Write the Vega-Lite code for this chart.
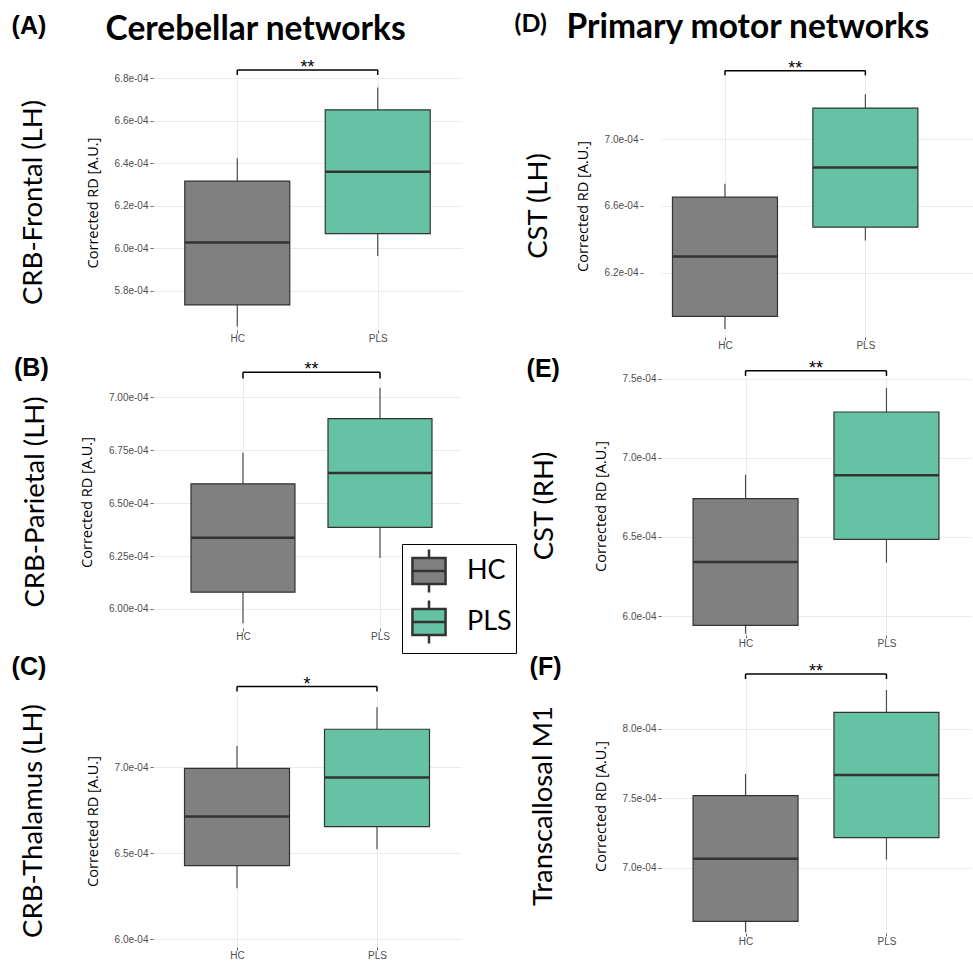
{
  "$schema": "https://vega.github.io/schema/vega-lite/v6.json",
  "background": "white",
  "padding": {"left": 11, "top": 11, "right": 0, "bottom": 0},
  "datasets": {
    "boxes": [
      {"panel": "A", "group": "HC", "lo": 0.0005631, "q1": 0.0005733, "med": 0.0006027, "q3": 0.0006316, "hi": 0.0006423},
      {"panel": "A", "group": "PLS", "lo": 0.0005963, "q1": 0.0006069, "med": 0.0006360, "q3": 0.0006651, "hi": 0.0006756},
      {"panel": "B", "group": "HC", "lo": 0.0005932, "q1": 0.0006079, "med": 0.0006336, "q3": 0.0006591, "hi": 0.0006737},
      {"panel": "B", "group": "PLS", "lo": 0.0006240, "q1": 0.0006385, "med": 0.0006642, "q3": 0.0006899, "hi": 0.0007044},
      {"panel": "C", "group": "HC", "lo": 0.0006297, "q1": 0.0006428, "med": 0.0006713, "q3": 0.0006994, "hi": 0.0007124},
      {"panel": "C", "group": "PLS", "lo": 0.0006523, "q1": 0.0006655, "med": 0.0006940, "q3": 0.0007221, "hi": 0.0007349},
      {"panel": "D", "group": "HC", "lo": 0.0005862, "q1": 0.0005938, "med": 0.0006296, "q3": 0.0006652, "hi": 0.0006732},
      {"panel": "D", "group": "PLS", "lo": 0.0006392, "q1": 0.0006472, "med": 0.0006830, "q3": 0.0007186, "hi": 0.0007268},
      {"panel": "E", "group": "HC", "lo": 0.0005888, "q1": 0.0005941, "med": 0.0006341, "q3": 0.0006741, "hi": 0.0006893},
      {"panel": "E", "group": "PLS", "lo": 0.0006337, "q1": 0.0006484, "med": 0.0006889, "q3": 0.0007289, "hi": 0.0007441},
      {"panel": "F", "group": "HC", "lo": 0.0006538, "q1": 0.0006617, "med": 0.0007067, "q3": 0.0007519, "hi": 0.0007675},
      {"panel": "F", "group": "PLS", "lo": 0.0007060, "q1": 0.0007218, "med": 0.0007668, "q3": 0.0008118, "hi": 0.0008278}
    ],
    "sig": [
      {"panel": "A", "yb": 0.0006839, "ye": 0.0006815, "label": "**"},
      {"panel": "B", "yb": 0.0007118, "ye": 0.0007088, "label": "**"},
      {"panel": "C", "yb": 0.0007469, "ye": 0.0007440, "label": "*"},
      {"panel": "D", "yb": 0.0007410, "ye": 0.0007382, "label": "**"},
      {"panel": "E", "yb": 0.0007549, "ye": 0.0007517, "label": "**"},
      {"panel": "F", "yb": 0.0008393, "ye": 0.0008357, "label": "**"}
    ]
  },
  "concat": [
    {
      "title": {"text": "Cerebellar networks", "anchor": "start", "frame": "bounds", "font": "Lato", "fontSize": 33.5, "fontWeight": "bold", "color": "#000000", "dx": 94, "dy": 34, "offset": 0},
      "concat": [
        {
          "title": {"text": "(A)", "anchor": "start", "frame": "bounds", "font": "Liberation Sans", "fontSize": 25, "fontWeight": "bold", "color": "#000000", "offset": 20, "dx": -8},
          "vconcat": [
            {
              "width": 309, "height": 255,
              "title": {"text": "CRB-Frontal (LH)", "orient": "left", "offset": 38, "font": "Lato", "fontSize": 27.5, "fontWeight": "normal", "color": "#000000"},
              "layer": [
                {"data": {"name": "boxes"}, "transform": [{"filter": "datum.panel === 'A'"}], "mark": {"type": "rule", "color": "#4D4D4D", "strokeWidth": 1.2},
                 "encoding": {
                   "x": {"field": "group", "type": "nominal", "scale": {"type": "point", "domain": ["_l", "HC", "mid", "PLS", "_r"], "padding": 0.2}, "axis": {"values": ["HC", "PLS"], "title": null, "labelAngle": 0, "grid": true}},
                   "y": {"field": "lo", "type": "quantitative", "title": "Corrected RD [A.U.]", "scale": {"domain": [0.0005615, 0.0006815], "nice": false, "zero": false}, "axis": {"title": "Corrected RD [A.U.]", "titleFont": "Open Sans", "titleFontSize": 14.5, "values": [0.00058, 0.0006, 0.00062, 0.00064, 0.00066, 0.00068], "labelExpr": "replace(format(datum.value, '.1e'), 'e-', 'e-0')"}},
                   "y2": {"field": "hi"}}},
                {"data": {"name": "boxes"}, "transform": [{"filter": "datum.panel === 'A'"}], "mark": {"type": "bar", "width": 105, "stroke": "#333333", "strokeWidth": 1.2},
                 "encoding": {"x": {"field": "group", "type": "nominal"}, "y": {"field": "q1", "type": "quantitative", "title": "Corrected RD [A.U.]"}, "y2": {"field": "q3"},
                   "fill": {"field": "group", "type": "nominal", "scale": {"domain": ["HC", "PLS"], "range": ["#808080", "#66C2A5"]}, "legend": {"title": null}}}},
                {"data": {"name": "boxes"}, "transform": [{"filter": "datum.panel === 'A'"}], "mark": {"type": "tick", "size": 105, "thickness": 2.5, "color": "#333333", "opacity": 1},
                 "encoding": {"x": {"field": "group", "type": "nominal"}, "y": {"field": "med", "type": "quantitative", "title": "Corrected RD [A.U.]"}}},
                {"data": {"name": "sig"}, "transform": [{"filter": "datum.panel === 'A'"}], "mark": {"type": "rule", "color": "#000000", "strokeWidth": 1.5},
                 "encoding": {"x": {"datum": "HC", "type": "nominal"}, "x2": {"datum": "PLS"}, "y": {"field": "yb", "type": "quantitative", "title": "Corrected RD [A.U.]"}}},
                {"data": {"name": "sig"}, "transform": [{"filter": "datum.panel === 'A'"}], "mark": {"type": "rule", "color": "#000000", "strokeWidth": 1.5},
                 "encoding": {"x": {"datum": "HC", "type": "nominal"}, "y": {"field": "yb", "type": "quantitative", "title": "Corrected RD [A.U.]"}, "y2": {"field": "ye"}}},
                {"data": {"name": "sig"}, "transform": [{"filter": "datum.panel === 'A'"}], "mark": {"type": "rule", "color": "#000000", "strokeWidth": 1.5},
                 "encoding": {"x": {"datum": "PLS", "type": "nominal"}, "y": {"field": "yb", "type": "quantitative", "title": "Corrected RD [A.U.]"}, "y2": {"field": "ye"}}},
                {"data": {"name": "sig"}, "transform": [{"filter": "datum.panel === 'A'"}], "mark": {"type": "text", "font": "Liberation Sans", "fontSize": 18, "baseline": "alphabetic", "dy": 3, "color": "#000000"},
                 "encoding": {"x": {"datum": "mid", "type": "nominal"}, "y": {"field": "yb", "type": "quantitative", "title": "Corrected RD [A.U.]"}, "text": {"field": "label"}}}
              ]
            }
          ]
        },
        {
          "title": {"text": "(B)", "anchor": "start", "frame": "bounds", "font": "Liberation Sans", "fontSize": 25, "fontWeight": "bold", "color": "#000000", "offset": -20, "dx": -8},
          "vconcat": [
            {
              "width": 308, "height": 252,
              "title": {"text": "CRB-Parietal (LH)", "orient": "left", "offset": 30, "font": "Lato", "fontSize": 27.5, "fontWeight": "normal", "color": "#000000"},
              "layer": [
                {"data": {"name": "boxes"}, "transform": [{"filter": "datum.panel === 'B'"}], "mark": {"type": "rule", "color": "#4D4D4D", "strokeWidth": 1.2},
                 "encoding": {
                   "x": {"field": "group", "type": "nominal", "scale": {"type": "point", "domain": ["_l", "HC", "mid", "PLS", "_r"], "padding": 0.248, "align": 0.632}, "axis": {"values": ["HC", "PLS"], "title": null, "labelAngle": 0, "grid": true}},
                   "y": {"field": "lo", "type": "quantitative", "title": "Corrected RD [A.U.]", "scale": {"domain": [0.000591, 0.000710], "nice": false, "zero": false}, "axis": {"title": "Corrected RD [A.U.]", "titleFont": "Open Sans", "titleFontSize": 14.5, "values": [0.0006, 0.000625, 0.00065, 0.000675, 0.0007], "labelExpr": "replace(format(datum.value, '.2e'), 'e-', 'e-0')"}},
                   "y2": {"field": "hi"}}},
                {"data": {"name": "boxes"}, "transform": [{"filter": "datum.panel === 'B'"}], "mark": {"type": "bar", "width": 104, "stroke": "#333333", "strokeWidth": 1.2},
                 "encoding": {"x": {"field": "group", "type": "nominal"}, "y": {"field": "q1", "type": "quantitative", "title": "Corrected RD [A.U.]"}, "y2": {"field": "q3"},
                   "fill": {"field": "group", "type": "nominal", "scale": {"domain": ["HC", "PLS"], "range": ["#808080", "#66C2A5"]}, "legend": {"title": null}}}},
                {"data": {"name": "boxes"}, "transform": [{"filter": "datum.panel === 'B'"}], "mark": {"type": "tick", "size": 104, "thickness": 2.5, "color": "#333333", "opacity": 1},
                 "encoding": {"x": {"field": "group", "type": "nominal"}, "y": {"field": "med", "type": "quantitative", "title": "Corrected RD [A.U.]"}}},
                {"data": {"name": "sig"}, "transform": [{"filter": "datum.panel === 'B'"}], "mark": {"type": "rule", "color": "#000000", "strokeWidth": 1.5},
                 "encoding": {"x": {"datum": "HC", "type": "nominal"}, "x2": {"datum": "PLS"}, "y": {"field": "yb", "type": "quantitative", "title": "Corrected RD [A.U.]"}}},
                {"data": {"name": "sig"}, "transform": [{"filter": "datum.panel === 'B'"}], "mark": {"type": "rule", "color": "#000000", "strokeWidth": 1.5},
                 "encoding": {"x": {"datum": "HC", "type": "nominal"}, "y": {"field": "yb", "type": "quantitative", "title": "Corrected RD [A.U.]"}, "y2": {"field": "ye"}}},
                {"data": {"name": "sig"}, "transform": [{"filter": "datum.panel === 'B'"}], "mark": {"type": "rule", "color": "#000000", "strokeWidth": 1.5},
                 "encoding": {"x": {"datum": "PLS", "type": "nominal"}, "y": {"field": "yb", "type": "quantitative", "title": "Corrected RD [A.U.]"}, "y2": {"field": "ye"}}},
                {"data": {"name": "sig"}, "transform": [{"filter": "datum.panel === 'B'"}], "mark": {"type": "text", "font": "Liberation Sans", "fontSize": 18, "baseline": "alphabetic", "dy": 3, "color": "#000000"},
                 "encoding": {"x": {"datum": "mid", "type": "nominal"}, "y": {"field": "yb", "type": "quantitative", "title": "Corrected RD [A.U.]"}, "text": {"field": "label"}}}
              ]
            }
          ]
        },
        {
          "title": {"text": "(C)", "anchor": "start", "frame": "bounds", "font": "Liberation Sans", "fontSize": 25, "fontWeight": "bold", "color": "#000000", "offset": -4, "dx": -8},
          "vconcat": [
            {
              "width": 308, "height": 252,
              "title": {"text": "CRB-Thalamus (LH)", "orient": "left", "offset": 38, "font": "Lato", "fontSize": 27.5, "fontWeight": "normal", "color": "#000000"},
              "layer": [
                {"data": {"name": "boxes"}, "transform": [{"filter": "datum.panel === 'C'"}], "mark": {"type": "rule", "color": "#4D4D4D", "strokeWidth": 1.2},
                 "encoding": {
                   "x": {"field": "group", "type": "nominal", "scale": {"type": "point", "domain": ["_l", "HC", "mid", "PLS", "_r"], "padding": 0.2}, "axis": {"values": ["HC", "PLS"], "title": null, "labelAngle": 0, "grid": true}},
                   "y": {"field": "lo", "type": "quantitative", "title": "Corrected RD [A.U.]", "scale": {"domain": [0.0005955, 0.000742], "nice": false, "zero": false}, "axis": {"title": "Corrected RD [A.U.]", "titleFont": "Open Sans", "titleFontSize": 14.5, "values": [0.0006, 0.00065, 0.0007], "labelExpr": "replace(format(datum.value, '.1e'), 'e-', 'e-0')"}},
                   "y2": {"field": "hi"}}},
                {"data": {"name": "boxes"}, "transform": [{"filter": "datum.panel === 'C'"}], "mark": {"type": "bar", "width": 105, "stroke": "#333333", "strokeWidth": 1.2},
                 "encoding": {"x": {"field": "group", "type": "nominal"}, "y": {"field": "q1", "type": "quantitative", "title": "Corrected RD [A.U.]"}, "y2": {"field": "q3"},
                   "fill": {"field": "group", "type": "nominal", "scale": {"domain": ["HC", "PLS"], "range": ["#808080", "#66C2A5"]}, "legend": {"title": null}}}},
                {"data": {"name": "boxes"}, "transform": [{"filter": "datum.panel === 'C'"}], "mark": {"type": "tick", "size": 105, "thickness": 2.5, "color": "#333333", "opacity": 1},
                 "encoding": {"x": {"field": "group", "type": "nominal"}, "y": {"field": "med", "type": "quantitative", "title": "Corrected RD [A.U.]"}}},
                {"data": {"name": "sig"}, "transform": [{"filter": "datum.panel === 'C'"}], "mark": {"type": "rule", "color": "#000000", "strokeWidth": 1.5},
                 "encoding": {"x": {"datum": "HC", "type": "nominal"}, "x2": {"datum": "PLS"}, "y": {"field": "yb", "type": "quantitative", "title": "Corrected RD [A.U.]"}}},
                {"data": {"name": "sig"}, "transform": [{"filter": "datum.panel === 'C'"}], "mark": {"type": "rule", "color": "#000000", "strokeWidth": 1.5},
                 "encoding": {"x": {"datum": "HC", "type": "nominal"}, "y": {"field": "yb", "type": "quantitative", "title": "Corrected RD [A.U.]"}, "y2": {"field": "ye"}}},
                {"data": {"name": "sig"}, "transform": [{"filter": "datum.panel === 'C'"}], "mark": {"type": "rule", "color": "#000000", "strokeWidth": 1.5},
                 "encoding": {"x": {"datum": "PLS", "type": "nominal"}, "y": {"field": "yb", "type": "quantitative", "title": "Corrected RD [A.U.]"}, "y2": {"field": "ye"}}},
                {"data": {"name": "sig"}, "transform": [{"filter": "datum.panel === 'C'"}], "mark": {"type": "text", "font": "Liberation Sans", "fontSize": 18, "baseline": "alphabetic", "dy": 3, "color": "#000000"},
                 "encoding": {"x": {"datum": "mid", "type": "nominal"}, "y": {"field": "yb", "type": "quantitative", "title": "Corrected RD [A.U.]"}, "text": {"field": "label"}}}
              ]
            }
          ]
        }
      ],
      "columns": 1, "spacing": 13
    },
    {
      "title": {"text": "Primary motor networks", "anchor": "start", "frame": "bounds", "font": "Lato", "fontSize": 33.5, "fontWeight": "bold", "color": "#000000", "dx": 52, "dy": 34, "offset": 0},
      "concat": [
        {
          "title": {"text": "(D)", "anchor": "start", "frame": "bounds", "font": "Lato", "fontSize": 25, "fontWeight": "bold", "color": "#000000", "offset": 23, "dx": -10},
          "vconcat": [
            {
              "width": 312, "height": 262,
              "title": {"text": "CST (LH)", "orient": "left", "offset": 23, "font": "Lato", "fontSize": 27.5, "fontWeight": "normal", "color": "#000000"},
              "layer": [
                {"data": {"name": "boxes"}, "transform": [{"filter": "datum.panel === 'D'"}], "mark": {"type": "rule", "color": "#4D4D4D", "strokeWidth": 1.2},
                 "encoding": {
                   "x": {"field": "group", "type": "nominal", "scale": {"type": "point", "domain": ["HC", "mid", "PLS", "_r"], "padding": 0.722, "align": 0.631}, "axis": {"values": ["HC", "PLS"], "title": null, "labelAngle": 0, "grid": true}},
                   "y": {"field": "lo", "type": "quantitative", "title": "Corrected RD [A.U.]", "scale": {"domain": [0.0005814, 0.0007384], "nice": false, "zero": false}, "axis": {"title": "Corrected RD [A.U.]", "titleFont": "Open Sans", "titleFontSize": 14.5, "offset": 18, "values": [0.00062, 0.00066, 0.0007], "labelExpr": "replace(format(datum.value, '.1e'), 'e-', 'e-0')"}},
                   "y2": {"field": "hi"}}},
                {"data": {"name": "boxes"}, "transform": [{"filter": "datum.panel === 'D'"}], "mark": {"type": "bar", "width": 105, "stroke": "#333333", "strokeWidth": 1.2},
                 "encoding": {"x": {"field": "group", "type": "nominal"}, "y": {"field": "q1", "type": "quantitative", "title": "Corrected RD [A.U.]"}, "y2": {"field": "q3"},
                   "fill": {"field": "group", "type": "nominal", "scale": {"domain": ["HC", "PLS"], "range": ["#808080", "#66C2A5"]}, "legend": {"title": null}}}},
                {"data": {"name": "boxes"}, "transform": [{"filter": "datum.panel === 'D'"}], "mark": {"type": "tick", "size": 105, "thickness": 2.5, "color": "#333333", "opacity": 1},
                 "encoding": {"x": {"field": "group", "type": "nominal"}, "y": {"field": "med", "type": "quantitative", "title": "Corrected RD [A.U.]"}}},
                {"data": {"name": "sig"}, "transform": [{"filter": "datum.panel === 'D'"}], "mark": {"type": "rule", "color": "#000000", "strokeWidth": 1.5},
                 "encoding": {"x": {"datum": "HC", "type": "nominal"}, "x2": {"datum": "PLS"}, "y": {"field": "yb", "type": "quantitative", "title": "Corrected RD [A.U.]"}}},
                {"data": {"name": "sig"}, "transform": [{"filter": "datum.panel === 'D'"}], "mark": {"type": "rule", "color": "#000000", "strokeWidth": 1.5},
                 "encoding": {"x": {"datum": "HC", "type": "nominal"}, "y": {"field": "yb", "type": "quantitative", "title": "Corrected RD [A.U.]"}, "y2": {"field": "ye"}}},
                {"data": {"name": "sig"}, "transform": [{"filter": "datum.panel === 'D'"}], "mark": {"type": "rule", "color": "#000000", "strokeWidth": 1.5},
                 "encoding": {"x": {"datum": "PLS", "type": "nominal"}, "y": {"field": "yb", "type": "quantitative", "title": "Corrected RD [A.U.]"}, "y2": {"field": "ye"}}},
                {"data": {"name": "sig"}, "transform": [{"filter": "datum.panel === 'D'"}], "mark": {"type": "text", "font": "Liberation Sans", "fontSize": 18, "baseline": "alphabetic", "dy": 3, "color": "#000000"},
                 "encoding": {"x": {"datum": "mid", "type": "nominal"}, "y": {"field": "yb", "type": "quantitative", "title": "Corrected RD [A.U.]"}, "text": {"field": "label"}}}
              ]
            }
          ]
        },
        {
          "title": {"text": "(E)", "anchor": "start", "frame": "bounds", "font": "Liberation Sans", "fontSize": 25, "fontWeight": "bold", "color": "#000000", "offset": -22, "dx": -4},
          "vconcat": [
            {
              "width": 310, "height": 258,
              "title": {"text": "CST (RH)", "orient": "left", "offset": 35, "font": "Lato", "fontSize": 27.5, "fontWeight": "normal", "color": "#000000"},
              "layer": [
                {"data": {"name": "boxes"}, "transform": [{"filter": "datum.panel === 'E'"}], "mark": {"type": "rule", "color": "#4D4D4D", "strokeWidth": 1.2},
                 "encoding": {
                   "x": {"field": "group", "type": "nominal", "scale": {"type": "point", "domain": ["_l", "HC", "mid", "PLS", "_r"], "padding": 0.2}, "axis": {"values": ["HC", "PLS"], "title": null, "labelAngle": 0, "grid": true}},
                   "y": {"field": "lo", "type": "quantitative", "title": "Corrected RD [A.U.]", "scale": {"domain": [0.000588, 0.000751], "nice": false, "zero": false}, "axis": {"title": "Corrected RD [A.U.]", "titleFont": "Open Sans", "titleFontSize": 14.5, "values": [0.0006, 0.00065, 0.0007, 0.00075], "labelExpr": "replace(format(datum.value, '.1e'), 'e-', 'e-0')"}},
                   "y2": {"field": "hi"}}},
                {"data": {"name": "boxes"}, "transform": [{"filter": "datum.panel === 'E'"}], "mark": {"type": "bar", "width": 105, "stroke": "#333333", "strokeWidth": 1.2},
                 "encoding": {"x": {"field": "group", "type": "nominal"}, "y": {"field": "q1", "type": "quantitative", "title": "Corrected RD [A.U.]"}, "y2": {"field": "q3"},
                   "fill": {"field": "group", "type": "nominal", "scale": {"domain": ["HC", "PLS"], "range": ["#808080", "#66C2A5"]}, "legend": {"title": null}}}},
                {"data": {"name": "boxes"}, "transform": [{"filter": "datum.panel === 'E'"}], "mark": {"type": "tick", "size": 105, "thickness": 2.5, "color": "#333333", "opacity": 1},
                 "encoding": {"x": {"field": "group", "type": "nominal"}, "y": {"field": "med", "type": "quantitative", "title": "Corrected RD [A.U.]"}}},
                {"data": {"name": "sig"}, "transform": [{"filter": "datum.panel === 'E'"}], "mark": {"type": "rule", "color": "#000000", "strokeWidth": 1.5},
                 "encoding": {"x": {"datum": "HC", "type": "nominal"}, "x2": {"datum": "PLS"}, "y": {"field": "yb", "type": "quantitative", "title": "Corrected RD [A.U.]"}}},
                {"data": {"name": "sig"}, "transform": [{"filter": "datum.panel === 'E'"}], "mark": {"type": "rule", "color": "#000000", "strokeWidth": 1.5},
                 "encoding": {"x": {"datum": "HC", "type": "nominal"}, "y": {"field": "yb", "type": "quantitative", "title": "Corrected RD [A.U.]"}, "y2": {"field": "ye"}}},
                {"data": {"name": "sig"}, "transform": [{"filter": "datum.panel === 'E'"}], "mark": {"type": "rule", "color": "#000000", "strokeWidth": 1.5},
                 "encoding": {"x": {"datum": "PLS", "type": "nominal"}, "y": {"field": "yb", "type": "quantitative", "title": "Corrected RD [A.U.]"}, "y2": {"field": "ye"}}},
                {"data": {"name": "sig"}, "transform": [{"filter": "datum.panel === 'E'"}], "mark": {"type": "text", "font": "Liberation Sans", "fontSize": 18, "baseline": "alphabetic", "dy": 3, "color": "#000000"},
                 "encoding": {"x": {"datum": "mid", "type": "nominal"}, "y": {"field": "yb", "type": "quantitative", "title": "Corrected RD [A.U.]"}, "text": {"field": "label"}}}
              ]
            }
          ]
        },
        {
          "title": {"text": "(F)", "anchor": "start", "frame": "bounds", "font": "Liberation Sans", "fontSize": 25, "fontWeight": "bold", "color": "#000000", "offset": -17, "dx": 0},
          "vconcat": [
            {
              "width": 310, "height": 254,
              "title": {"text": "Transcallosal M1", "orient": "left", "offset": 36, "font": "Lato", "fontSize": 27.5, "fontWeight": "normal", "color": "#000000"},
              "layer": [
                {"data": {"name": "boxes"}, "transform": [{"filter": "datum.panel === 'F'"}], "mark": {"type": "rule", "color": "#4D4D4D", "strokeWidth": 1.2},
                 "encoding": {
                   "x": {"field": "group", "type": "nominal", "scale": {"type": "point", "domain": ["_l", "HC", "mid", "PLS", "_r"], "padding": 0.2}, "axis": {"values": ["HC", "PLS"], "title": null, "labelAngle": 0, "grid": true}},
                   "y": {"field": "lo", "type": "quantitative", "title": "Corrected RD [A.U.]", "scale": {"domain": [0.0006533, 0.0008357], "nice": false, "zero": false}, "axis": {"title": "Corrected RD [A.U.]", "titleFont": "Open Sans", "titleFontSize": 14.5, "values": [0.0007, 0.00075, 0.0008], "labelExpr": "replace(format(datum.value, '.1e'), 'e-', 'e-0')"}},
                   "y2": {"field": "hi"}}},
                {"data": {"name": "boxes"}, "transform": [{"filter": "datum.panel === 'F'"}], "mark": {"type": "bar", "width": 105, "stroke": "#333333", "strokeWidth": 1.2},
                 "encoding": {"x": {"field": "group", "type": "nominal"}, "y": {"field": "q1", "type": "quantitative", "title": "Corrected RD [A.U.]"}, "y2": {"field": "q3"},
                   "fill": {"field": "group", "type": "nominal", "scale": {"domain": ["HC", "PLS"], "range": ["#808080", "#66C2A5"]}, "legend": {"title": null}}}},
                {"data": {"name": "boxes"}, "transform": [{"filter": "datum.panel === 'F'"}], "mark": {"type": "tick", "size": 105, "thickness": 2.5, "color": "#333333", "opacity": 1},
                 "encoding": {"x": {"field": "group", "type": "nominal"}, "y": {"field": "med", "type": "quantitative", "title": "Corrected RD [A.U.]"}}},
                {"data": {"name": "sig"}, "transform": [{"filter": "datum.panel === 'F'"}], "mark": {"type": "rule", "color": "#000000", "strokeWidth": 1.5},
                 "encoding": {"x": {"datum": "HC", "type": "nominal"}, "x2": {"datum": "PLS"}, "y": {"field": "yb", "type": "quantitative", "title": "Corrected RD [A.U.]"}}},
                {"data": {"name": "sig"}, "transform": [{"filter": "datum.panel === 'F'"}], "mark": {"type": "rule", "color": "#000000", "strokeWidth": 1.5},
                 "encoding": {"x": {"datum": "HC", "type": "nominal"}, "y": {"field": "yb", "type": "quantitative", "title": "Corrected RD [A.U.]"}, "y2": {"field": "ye"}}},
                {"data": {"name": "sig"}, "transform": [{"filter": "datum.panel === 'F'"}], "mark": {"type": "rule", "color": "#000000", "strokeWidth": 1.5},
                 "encoding": {"x": {"datum": "PLS", "type": "nominal"}, "y": {"field": "yb", "type": "quantitative", "title": "Corrected RD [A.U.]"}, "y2": {"field": "ye"}}},
                {"data": {"name": "sig"}, "transform": [{"filter": "datum.panel === 'F'"}], "mark": {"type": "text", "font": "Liberation Sans", "fontSize": 18, "baseline": "alphabetic", "dy": 3, "color": "#000000"},
                 "encoding": {"x": {"datum": "mid", "type": "nominal"}, "y": {"field": "yb", "type": "quantitative", "title": "Corrected RD [A.U.]"}, "text": {"field": "label"}}}
              ]
            }
          ]
        }
      ],
      "columns": 1, "spacing": 6
    }
  ],
  "columns": 2,
  "spacing": 52,
  "config": {
    "view": {"stroke": null},
    "font": "Liberation Sans",
    "axis": {"gridColor": "#EBEBEB", "gridWidth": 1, "domain": false, "ticks": true, "tickColor": "#666666", "tickSize": 3, "labelColor": "#4D4D4D", "labelFont": "Liberation Sans", "labelFontSize": 10, "labelPadding": 2, "titleFont": "Open Sans", "titleFontSize": 14.5, "titleFontWeight": "normal", "titleColor": "#000000", "titlePadding": 14},
    "axisX": {"labelFontSize": 10, "labelAngle": 0, "labelPadding": 0},
    "legend": {"orient": "none", "legendX": 249, "legendY": 469, "symbolType": "M-0.77,-0.6H0.77V0.6H-0.77Z M-0.77,0H0.77 M0,-0.6V-1 M0,0.6V1", "symbolSize": 1849, "symbolStrokeColor": "#333333", "symbolStrokeWidth": 2.5, "symbolOpacity": 1, "labelFont": "Lato", "labelFontSize": 27, "labelColor": "#000000", "labelOffset": 15, "rowPadding": -3, "padding": 4, "strokeColor": "#000000", "fillColor": "#FFFFFF"}
  }
}
